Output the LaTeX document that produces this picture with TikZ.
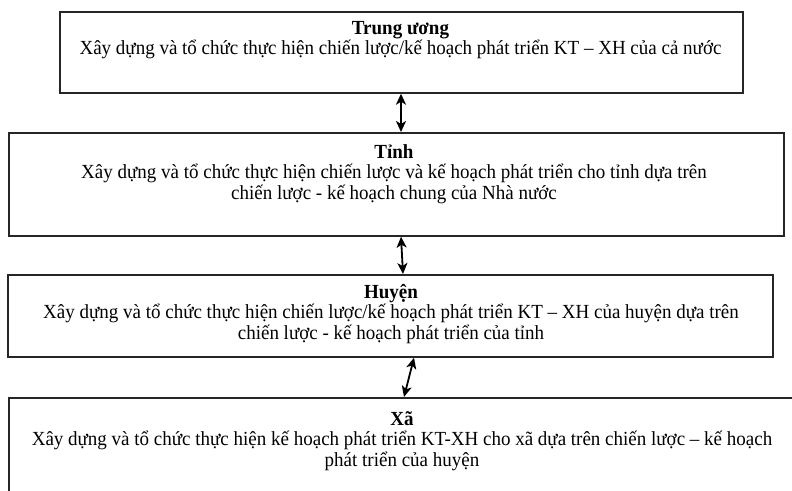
\documentclass[tikz,border=0pt]{standalone}
\usepackage{fontspec}
\setmainfont[FakeStretch=0.95]{Liberation Serif}
\usetikzlibrary{arrows.meta}
\begin{document}
\begin{tikzpicture}[x=1pt,y=-1pt,
  box/.style={draw=black!85, line width=1.7pt, inner sep=0pt, anchor=north west},
  txt/.style={align=center, inner sep=0pt, anchor=north, font=\fontsize{20}{20.5}\selectfont},
  dbl/.style={{Stealth[length=11pt,width=10pt,inset=3pt]}-{Stealth[length=11pt,width=10pt,inset=3pt]}, line width=1.8pt}]
\useasboundingbox (0,0) rectangle (792,490);
\clip (0,0) rectangle (792,490);
\fill[white] (0,0) rectangle (792,490);
\node[box, minimum width=683pt, minimum height=81pt] (b1) at (59,11) {};
\node[box, minimum width=775pt, minimum height=103pt] (b2) at (8,132) {};
\node[box, minimum width=765pt, minimum height=82pt] (b3) at (7,274) {};
\node[box, minimum width=810pt, minimum height=120pt, line width=2.2pt] (b4) at (8,397) {};
\node[txt] (t1) at (400.5,21) {\textbf{Trung ương}\\Xây dựng và tổ chức thực hiện chiến lược/kế hoạch phát triển KT – XH của cả nước};
\node[txt] (t2) at (394,144) {\textbf{Tỉnh}\\Xây dựng và tổ chức thực hiện chiến lược và kế hoạch phát triển cho tỉnh dựa trên\\chiến lược - kế hoạch chung của Nhà nước};
\node[txt] (t3) at (391,284) {\textbf{Huyện}\\Xây dựng và tổ chức thực hiện chiến lược/kế hoạch phát triển KT – XH của huyện dựa trên\\chiến lược - kế hoạch phát triển của tỉnh};
\node[txt] (t4) at (402,411) {\textbf{Xã}\\Xây dựng và tổ chức thực hiện kế hoạch phát triển KT-XH cho xã dựa trên chiến lược – kế hoạch\\phát triển của huyện};
\coordinate (a1) at (401,0);
\coordinate (a2t) at (401,0);
\coordinate (a2b) at (403,0);
\coordinate (a3t) at (414,0);
\coordinate (a3b) at (404,0);
\draw[dbl] (b1.south -| a1) -- (b2.north -| a1);
\draw[dbl] (b2.south -| a2t) -- (b3.north -| a2b);
\draw[dbl] (b3.south -| a3t) -- (b4.north -| a3b);
\end{tikzpicture}
\end{document}
